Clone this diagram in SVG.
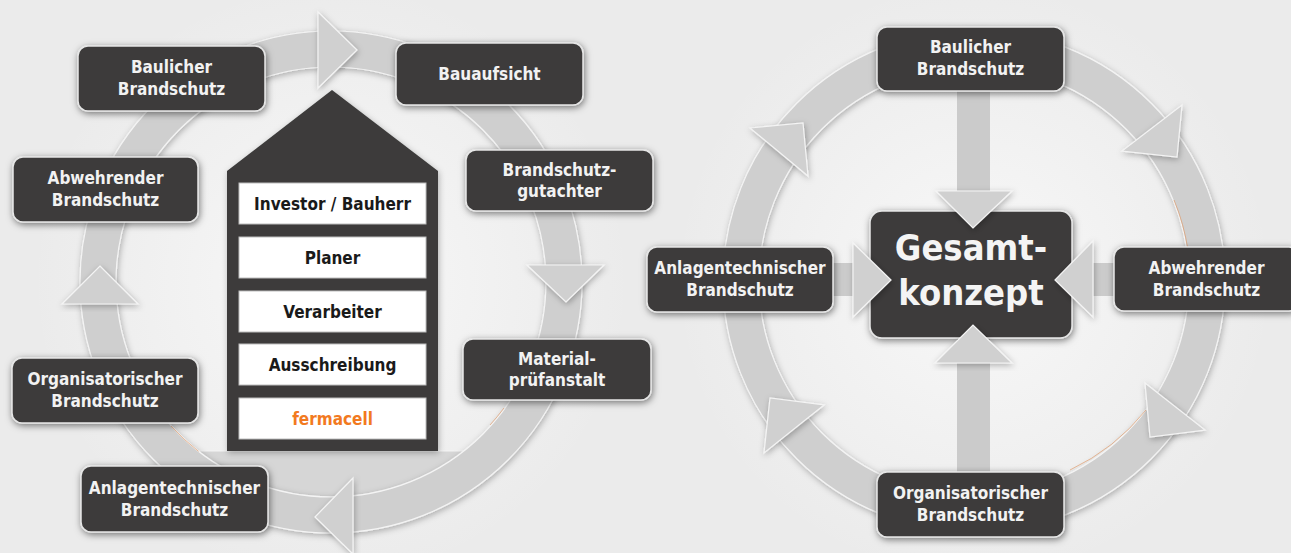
<svg xmlns="http://www.w3.org/2000/svg" width="1291" height="553" viewBox="0 0 1291 553">
<defs>
<radialGradient id="glowL" cx="331" cy="282" r="300" gradientUnits="userSpaceOnUse">
<stop offset="0" stop-color="#f8f8f8" stop-opacity="1"/>
<stop offset="1" stop-color="#f8f8f8" stop-opacity="0"/>
</radialGradient>
<radialGradient id="glowR" cx="974" cy="281" r="300" gradientUnits="userSpaceOnUse">
<stop offset="0" stop-color="#f8f8f8" stop-opacity="1"/>
<stop offset="1" stop-color="#f8f8f8" stop-opacity="0"/>
</radialGradient>
<filter id="sh" x="-20%" y="-20%" width="140%" height="140%">
<feDropShadow dx="1" dy="2" stdDeviation="3.5" flood-color="#000" flood-opacity="0.5"/>
</filter>
<filter id="shs" x="-20%" y="-20%" width="140%" height="140%">
<feDropShadow dx="1" dy="2" stdDeviation="3" flood-color="#000" flood-opacity="0.28"/>
</filter>
<style>
.box{fill:#3c3b3a;stroke:#e6e6e6;stroke-width:1.5;filter:url(#sh)}
.bt{font-family:"DejaVu Sans Condensed","DejaVu Sans",sans-serif;font-weight:bold;font-size:17px;fill:#f2f2f2;text-anchor:middle}
.ht{font-family:"DejaVu Sans Condensed","DejaVu Sans",sans-serif;font-weight:bold;font-size:17px;fill:#1a1a1a;text-anchor:middle}
.gt{font-family:"DejaVu Sans Condensed","DejaVu Sans",sans-serif;font-weight:bold;font-size:36px;fill:#f4f4f4;text-anchor:middle}
.ring{fill:#cfcfcf;fill-rule:evenodd;stroke:#f4f4f4;stroke-width:1.2;filter:url(#shs)}
.arr{fill:#d0d0d0;stroke:#f4f4f4;stroke-width:1.2;stroke-linejoin:miter;filter:url(#shs)}
.bar{fill:#cbcbcb}
.wr{fill:#ffffff;stroke:#bdbdbd;stroke-width:1}
.or{fill:none;stroke:#e0915a;stroke-width:1;opacity:0.6}
</style>
</defs>
<rect x="0" y="0" width="1291" height="553" fill="#ebebeb"/>
<circle cx="331" cy="282" r="300" fill="url(#glowL)"/>
<circle cx="974" cy="281" r="300" fill="url(#glowR)"/>

<g id="connectors">
<!-- left cycle ring -->
<path d="M198,451 H464 A215,215 0 0,1 198,451 Z" fill="#d6d6d6" stroke="#f4f4f4" stroke-width="1"/>
<path class="ring" d="M80,282 A251,251 0 1,0 582,282 A251,251 0 1,0 80,282 Z M116,282 A215,215 0 1,0 546,282 A215,215 0 1,0 116,282 Z"/>
<path class="or" d="M198.6,451.4 A215,215 0 0,1 171,426"/>
<path class="or" d="M504,408 A215,215 0 0,1 490,425"/>
<polygon class="arr" points="318,12 318,88 357,50"/>
<polygon class="arr" points="527,265 604,265 566,302"/>
<polygon class="arr" points="353,478 353,554 315,517"/>
<polygon class="arr" points="62,304 138,304 100,266"/>

<!-- right cycle -->
<rect class="bar" x="957" y="91" width="33" height="381"/>
<rect class="bar" x="833" y="263" width="281" height="33"/>
<path class="ring" d="M723,281 A251,251 0 1,0 1225,281 A251,251 0 1,0 723,281 Z M759,281 A215,215 0 1,0 1189,281 A215,215 0 1,0 759,281 Z"/>
<path class="or" d="M1146,410 A215,215 0 0,1 1070,470"/>
<path class="or" d="M1174,200 A215,215 0 0,1 1188,250"/>
<polygon class="arr" points="750,128 803,123 808,176"/>
<polygon class="arr" points="1182,105 1177,157 1122,151"/>
<polygon class="arr" points="1145,383 1205,430 1150,437"/>
<polygon class="arr" points="824,405 764,453 770,398"/>
</g>

<g id="house">
<polygon points="227,171 332,90 438,171 438,451 227,451" fill="#3c3b3a" filter="url(#shs)"/>
<rect class="wr" x="239" y="183" width="187" height="41"/>
<text class="ht" x="332.5" y="210">Investor / Bauherr</text>
<rect class="wr" x="239" y="237" width="187" height="41"/>
<text class="ht" x="332.5" y="264">Planer</text>
<rect class="wr" x="239" y="291" width="187" height="41"/>
<text class="ht" x="332.5" y="318">Verarbeiter</text>
<rect class="wr" x="239" y="344" width="187" height="41"/>
<text class="ht" x="332.5" y="371">Ausschreibung</text>
<rect class="wr" x="239" y="398" width="187" height="41"/>
<text class="ht" x="332.5" y="425" style="fill:#f27a1f">fermacell</text>
</g>

<g id="l-baulicher"><rect class="box" x="78" y="46" width="187" height="65" rx="10"/><text class="bt" x="171.5" y="73">Baulicher</text><text class="bt" x="171.5" y="95">Brandschutz</text></g>
<g id="l-bauaufsicht"><rect class="box" x="396" y="43" width="187" height="62" rx="10"/><text class="bt" x="489.5" y="80">Bauaufsicht</text></g>
<g id="l-abwehrender"><rect class="box" x="13" y="157" width="185" height="65" rx="10"/><text class="bt" x="105.5" y="184">Abwehrender</text><text class="bt" x="105.5" y="206">Brandschutz</text></g>
<g id="l-gutachter"><rect class="box" x="466" y="150" width="187" height="61" rx="10"/><text class="bt" x="559.5" y="176">Brandschutz-</text><text class="bt" x="559.5" y="197">gutachter</text></g>
<g id="l-organisatorischer"><rect class="box" x="12" y="358" width="186" height="65" rx="10"/><text class="bt" x="105" y="385">Organisatorischer</text><text class="bt" x="105" y="407">Brandschutz</text></g>
<g id="l-material"><rect class="box" x="463" y="339" width="188" height="61" rx="10"/><text class="bt" x="557" y="365">Material-</text><text class="bt" x="557" y="386">prüfanstalt</text></g>
<g id="l-anlagen"><rect class="box" x="81" y="466" width="187" height="66" rx="10"/><text class="bt" x="174.5" y="494">Anlagentechnischer</text><text class="bt" x="174.5" y="516">Brandschutz</text></g>

<g id="r-baulicher"><rect class="box" x="877" y="27" width="187" height="64" rx="10"/><text class="bt" x="970.5" y="53">Baulicher</text><text class="bt" x="970.5" y="75">Brandschutz</text></g>
<g id="r-anlagen"><rect class="box" x="647" y="247" width="186" height="65" rx="10"/><text class="bt" x="740" y="274">Anlagentechnischer</text><text class="bt" x="740" y="296">Brandschutz</text></g>
<g id="r-abwehrender"><rect class="box" x="1114" y="247" width="185" height="64" rx="10"/><text class="bt" x="1206.5" y="274">Abwehrender</text><text class="bt" x="1206.5" y="296">Brandschutz</text></g>
<g id="r-organisatorischer"><rect class="box" x="877" y="472" width="187" height="65" rx="10"/><text class="bt" x="970.5" y="499">Organisatorischer</text><text class="bt" x="970.5" y="521">Brandschutz</text></g>
<g id="r-gesamt"><rect class="box" x="870" y="211" width="202" height="127" rx="12"/><text class="gt" x="971" y="260">Gesamt-</text><text class="gt" x="971" y="305">konzept</text></g>

<g id="center-arrows">
<polygon class="arr" points="936,191 1012,191 973,228"/>
<polygon class="arr" points="853,243 853,317 891,280"/>
<polygon class="arr" points="1093,241 1093,317 1055,280"/>
<polygon class="arr" points="935,363 1012,363 973,325"/>
</g>
</svg>
